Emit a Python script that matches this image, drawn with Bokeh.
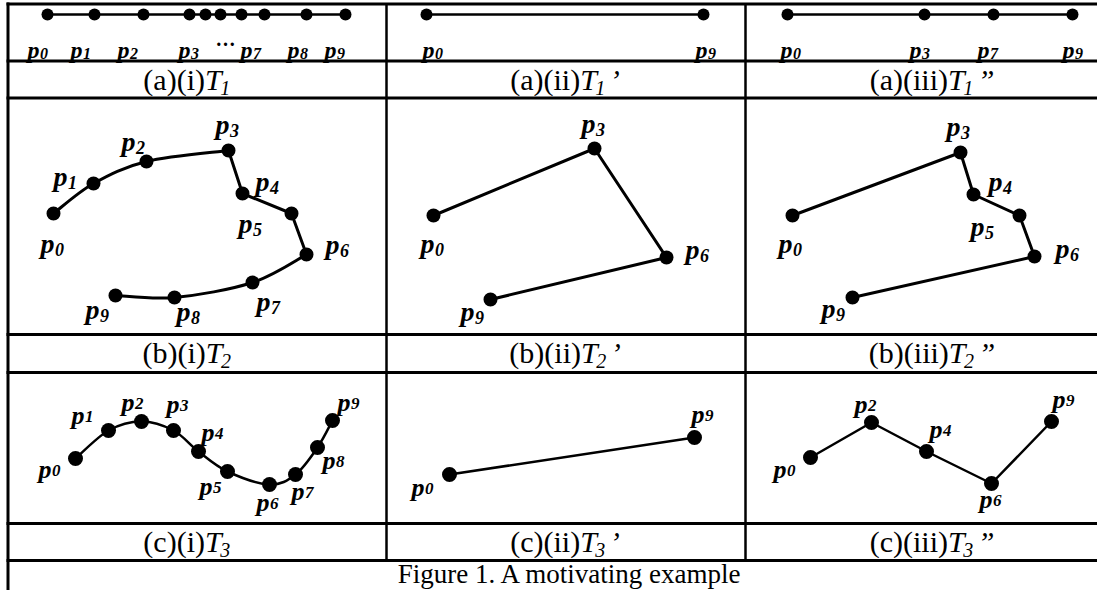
from bokeh.plotting import figure
from bokeh.models import Range1d
from bokeh.core.properties import value
from bokeh.embed import file_html
from bokeh.resources import INLINE

SERIF = "Liberation Serif"

# ---------------- data (local panel units, y pointing up) ----------------
# Row (a): one-dimensional trajectory T1 and its two simplifications
T1_LEVEL = 46.5
T1_LABEL_BASE = 4.5
T1_I_IDS = [0, 1, 2, 3, 4, 5, 6, 7, 8, 9]
T1_I_X = [39, 86, 135, 181, 197, 212, 233, 256, 298, 337]
T1_I_LABEL_IDS = [0, 1, 2, 3, 7, 8, 9]
T1_I_LABEL_X = [31, 74, 121, 182, 244, 291, 328]
T1_I_ELLIPSIS_X = 217

T1_II_IDS = [0, 9]
T1_II_X = [40, 317]
T1_II_LABEL_X = [48, 321]

T1_III_IDS = [0, 3, 7, 9]
T1_III_X = [42, 179, 248, 327]
T1_III_LABEL_X = [47, 176, 244, 329]

# Row (b): trajectory T2 (curved pieces p0..p3 and p6..p9)
T2_I_IDS = [0, 1, 2, 3, 4, 5, 6, 7, 8, 9]
T2_I_X = [45, 85, 138, 220, 234, 283, 298, 244, 166, 107]
T2_I_Y = [121, 151, 173, 184, 141, 121, 80, 52, 37, 39]
T2_I_LX = [46, 59, 127, 221, 261, 244, 331, 262, 182, 91]
T2_I_LY = [83, 150, 185, 202, 145, 103, 82, 25, 15, 17]
T2_I_CURVED = [(0, 3), (6, 9)]

T2_II_IDS = [0, 3, 6, 9]
T2_II_X = [47, 208, 280, 104]
T2_II_Y = [119, 186, 77, 35]
T2_II_LX = [48, 209, 313, 88]
T2_II_LY = [83, 203, 77, 15]

T2_III_IDS = [0, 3, 4, 5, 6, 9]
T2_III_X = [47, 215, 228, 274, 289, 107]
T2_III_Y = [119, 182, 140, 119, 78, 37]
T2_III_LX = [47, 215, 257, 239, 324, 90]
T2_III_LY = [83, 200, 145, 100, 78, 18]

# Row (c): trajectory T3 (smooth curve)
T3_I_IDS = [0, 1, 2, 3, 4, 5, 6, 7, 8, 9]
T3_I_X = [67, 100, 133, 165, 190, 219, 261, 287, 309, 324]
T3_I_Y = [65, 93, 102, 93, 72, 52, 39, 49, 76, 103]
T3_I_LX = [43, 76, 126, 171, 206, 204, 261, 296, 327, 342]
T3_I_LY = [46, 100, 113, 111, 83, 29, 13, 24, 55, 113]
T3_I_CURVED = [(0, 9)]

T3_II_IDS = [0, 9]
T3_II_X = [63, 308]
T3_II_Y = [49, 86]
T3_II_LX = [38, 318]
T3_II_LY = [28, 101]

T3_III_IDS = [0, 2, 4, 6, 9]
T3_III_X = [65, 126, 181, 246, 306]
T3_III_Y = [66, 101, 72, 40, 102]
T3_III_LX = [41, 122, 197, 247, 320]
T3_III_LY = [46, 111, 86, 16, 116]

# Captions
CAPTION_PREFIX = [["(a)(i)", "(a)(ii)", "(a)(iii)"],
                  ["(b)(i)", "(b)(ii)", "(b)(iii)"],
                  ["(c)(i)", "(c)(ii)", "(c)(iii)"]]
CAPTION_SUB = ["1", "2", "3"]
CAPTION_PRIME = ["", "\u2019", "\u201d"]
FIGURE_CAPTION = "Figure 1. A motivating example"

# ---------------- layout (picture pixels) ----------------
X0, X1, Y0, Y1 = 0, 1097, 0, 590
COL_LEFT = [8, 386, 745]
COL_CENTER = [187, 565, 932]
ROW_PANEL_BOTTOM = [60.5, 334, 523]
ROW_CAPTION_BASE = [88, 361, 550]
H_LINES = [3.5, 60.5, 97.5, 334, 372, 523, 560]
V_DIVIDERS = [386, 745]
TXT_SHIFT = 0.29   # em fraction: renderer draws alphabetic text this much lower

p = figure(width=X1 - X0, height=Y1 - Y0, x_range=Range1d(X0, X1),
           y_range=Range1d(Y1, Y0), output_backend="svg", toolbar_location=None,
           min_border=0, x_axis_location=None, y_axis_location=None)
p.grid.visible = False
p.outline_line_color = None
p.background_fill_color = "white"
p.border_fill_color = "white"

# table rules
p.segment(x0=[6] * len(H_LINES), y0=H_LINES, x1=[1097] * len(H_LINES), y1=H_LINES,
          line_color="black", line_width=3)
p.segment(x0=V_DIVIDERS, y0=[3, 3], x1=V_DIVIDERS, y1=[560, 560],
          line_color="black", line_width=2.5)
p.segment(x0=[7.5], y0=[2], x1=[7.5], y1=[590], line_color="black", line_width=3)


def ranges(name, col, row):
    x0 = COL_LEFT[col]
    yb = ROW_PANEL_BOTTOM[row]
    p.extra_x_ranges[name + "x"] = Range1d(X0 - x0, X1 - x0)
    p.extra_y_ranges[name + "y"] = Range1d(yb - Y1, yb - Y0)
    return dict(x_range_name=name + "x", y_range_name=name + "y")


def labels(rn, ids, lx, ly, psize, dsize, dshift):
    p.text(x=lx, y=[v + TXT_SHIFT * psize for v in ly], text=["p"] * len(lx),
           text_font=value(SERIF), text_font_style="bold italic",
           text_font_size=f"{psize}px", text_align="right", text_baseline="alphabetic",
           text_color="black", **rn)
    p.text(x=[v + 0.5 for v in lx], y=[v + dshift + TXT_SHIFT * dsize for v in ly],
           text=[str(i) for i in ids], text_font=value(SERIF),
           text_font_style="bold italic", text_font_size=f"{dsize}px", text_align="left",
           text_baseline="alphabetic", text_color="black", **rn)


def track(rn, xs, ys, dot, lw, curved=()):
    n = len(xs)
    in_curve = [False] * (n - 1)
    for a, b in curved:
        for i in range(a, b):
            in_curve[i] = True
    sx0, sy0, sx1, sy1 = [], [], [], []
    bx0, by0, bx1, by1, c0x, c0y, c1x, c1y = [], [], [], [], [], [], [], []
    for i in range(n - 1):
        if not in_curve[i]:
            sx0.append(xs[i]); sy0.append(ys[i]); sx1.append(xs[i + 1]); sy1.append(ys[i + 1])
            continue
        a, b = next((a, b) for a, b in curved if a <= i < b)
        ip = max(i - 1, a)
        inn = min(i + 2, b)
        bx0.append(xs[i]); by0.append(ys[i]); bx1.append(xs[i + 1]); by1.append(ys[i + 1])
        c0x.append(xs[i] + (xs[i + 1] - xs[ip]) / 6); c0y.append(ys[i] + (ys[i + 1] - ys[ip]) / 6)
        c1x.append(xs[i + 1] - (xs[inn] - xs[i]) / 6); c1y.append(ys[i + 1] - (ys[inn] - ys[i]) / 6)
    if sx0:
        p.segment(x0=sx0, y0=sy0, x1=sx1, y1=sy1, line_color="black", line_width=lw,
                  line_cap="round", **rn)
    if bx0:
        p.bezier(x0=bx0, y0=by0, x1=bx1, y1=by1, cx0=c0x, cy0=c0y, cx1=c1x, cy1=c1y,
                 line_color="black", line_width=lw, line_cap="round", **rn)
    p.scatter(xs, ys, size=dot, marker="circle", fill_color="black", line_color=None, **rn)


# row (a)
rn = ranges("a1", 0, 0)
track(rn, T1_I_X, [T1_LEVEL] * len(T1_I_X), 12, 2.5)
labels(rn, T1_I_LABEL_IDS, T1_I_LABEL_X, [T1_LABEL_BASE] * len(T1_I_LABEL_X), 24, 16, -1.5)
p.text(x=[T1_I_ELLIPSIS_X], y=[T1_LABEL_BASE + 12 + TXT_SHIFT * 20], text=["\u2026"],
       text_font=value(SERIF), text_font_style="bold", text_font_size="20px",
       text_align="center", text_baseline="alphabetic", **rn)
rn = ranges("a2", 1, 0)
track(rn, T1_II_X, [T1_LEVEL] * len(T1_II_X), 12, 2.5)
labels(rn, T1_II_IDS, T1_II_LABEL_X, [T1_LABEL_BASE] * len(T1_II_X), 24, 16, -1.5)
rn = ranges("a3", 2, 0)
track(rn, T1_III_X, [T1_LEVEL] * len(T1_III_X), 12, 2.5)
labels(rn, T1_III_IDS, T1_III_LABEL_X, [T1_LABEL_BASE] * len(T1_III_X), 24, 16, -1.5)

# row (b)
rn = ranges("b1", 0, 1)
track(rn, T2_I_X, T2_I_Y, 14, 3, T2_I_CURVED)
labels(rn, T2_I_IDS, T2_I_LX, T2_I_LY, 28, 18, -3)
rn = ranges("b2", 1, 1)
track(rn, T2_II_X, T2_II_Y, 14, 3)
labels(rn, T2_II_IDS, T2_II_LX, T2_II_LY, 28, 18, -3)
rn = ranges("b3", 2, 1)
track(rn, T2_III_X, T2_III_Y, 14, 3)
labels(rn, T2_III_IDS, T2_III_LX, T2_III_LY, 28, 18, -3)

# row (c)
rn = ranges("c1", 0, 2)
track(rn, T3_I_X, T3_I_Y, 15, 2.5, T3_I_CURVED)
labels(rn, T3_I_IDS, T3_I_LX, T3_I_LY, 26, 17, 2)
rn = ranges("c2", 1, 2)
track(rn, T3_II_X, T3_II_Y, 15, 2.5)
labels(rn, T3_II_IDS, T3_II_LX, T3_II_LY, 26, 17, 2)
rn = ranges("c3", 2, 2)
track(rn, T3_III_X, T3_III_Y, 15, 2.5)
labels(rn, T3_III_IDS, T3_III_LX, T3_III_LY, 26, 17, 2)

# captions
CAP = 30
SUB = 20
W = {"(": 333, ")": 333, "a": 444, "b": 500, "c": 444, "i": 278}
PRIME_W = {"": 0, "\u2019": 333, "\u201d": 556}
px, py, pt = [], [], []
tx, ty, tt = [], [], []
sx, sy, st = [], [], []
qx, qy, qt = [], [], []
for r in range(3):
    for c in range(3):
        pre = CAPTION_PREFIX[r][c]
        pre_w = sum(W[ch] for ch in pre) * CAP / 1000
        prime = CAPTION_PRIME[c]
        tw = 556 * CAP / 1000
        sw = 500 * SUB / 1000
        prw = (4 + PRIME_W[prime] * CAP / 1000) if prime else 0
        total = pre_w + tw + sw + prw
        start = COL_CENTER[c] - total / 2
        base = ROW_CAPTION_BASE[r] - TXT_SHIFT * CAP
        px.append(start); py.append(base); pt.append(pre)
        tx.append(start + pre_w); ty.append(base); tt.append("T")
        sx.append(start + pre_w + tw - 1.5); sy.append(base + 5 + TXT_SHIFT * (CAP - SUB))
        st.append(CAPTION_SUB[r])
        if prime:
            qx.append(start + pre_w + tw + sw + 3); qy.append(base); qt.append(prime)

p.text(x=px, y=py, text=pt, text_font=value(SERIF), text_font_size=f"{CAP}px",
       text_align="left", text_baseline="alphabetic")
p.text(x=tx, y=ty, text=tt, text_font=value(SERIF), text_font_style="italic",
       text_font_size=f"{CAP}px", text_align="left", text_baseline="alphabetic")
p.text(x=sx, y=sy, text=st, text_font=value(SERIF), text_font_style="italic",
       text_font_size=f"{SUB}px", text_align="left", text_baseline="alphabetic")
p.text(x=qx, y=qy, text=qt, text_font=value(SERIF), text_font_style="italic",
       text_font_size=f"{CAP}px", text_align="left", text_baseline="alphabetic")
p.text(x=[570], y=[581 - TXT_SHIFT * 27], text=[FIGURE_CAPTION], text_font=value(SERIF),
       text_font_size="27px", text_align="center", text_baseline="alphabetic")

open("out.html", "w").write(file_html(p, INLINE))
